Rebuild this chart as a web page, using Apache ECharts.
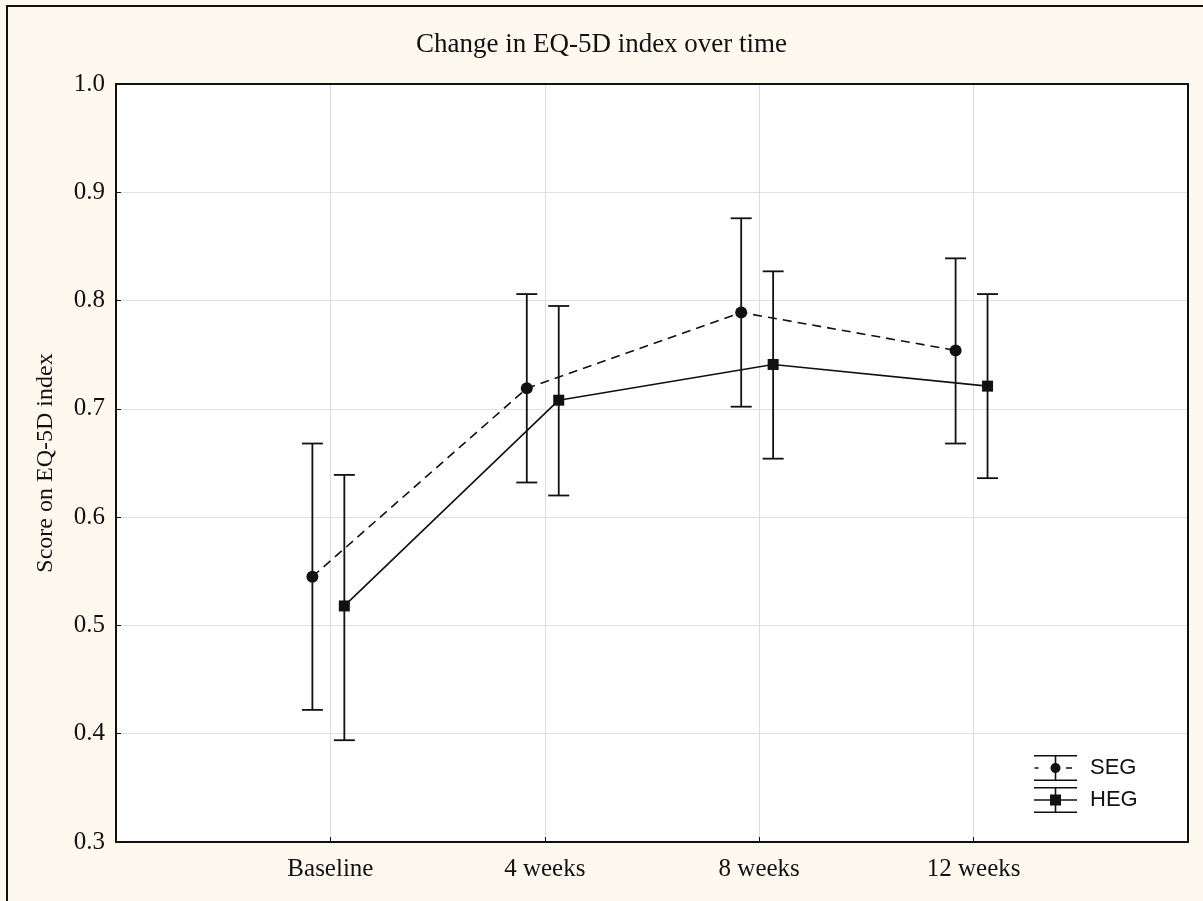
<!DOCTYPE html>
<html>
<head>
<meta charset="utf-8">
<style>
  html, body { margin: 0; padding: 0; background: #fef9ef; }
  #chart { width: 1203px; height: 901px; }
</style>
<script src="https://cdn.jsdelivr.net/npm/echarts@6/dist/echarts.min.js"></script>
</head>
<body>
<div id="chart"></div>
<script>
// Time points and the two groups' mean EQ-5D index with confidence limits
const categories = ['Baseline', '4 weeks', '8 weeks', '12 weeks'];
const segMean = [0.545, 0.719, 0.789, 0.754];
const segLow  = [0.422, 0.632, 0.702, 0.668];
const segHigh = [0.668, 0.806, 0.876, 0.839];
const hegMean = [0.518, 0.708, 0.741, 0.721];
const hegLow  = [0.394, 0.620, 0.654, 0.636];
const hegHigh = [0.639, 0.795, 0.827, 0.806];
const yTicks = [0.3, 0.4, 0.5, 0.6, 0.7, 0.8, 0.9, 1.0];

// horizontal dodge of each group around its time point (axis units)
const SEG_SHIFT = -0.084;
const HEG_SHIFT = 0.065;

const serif = '"Liberation Serif", "DejaVu Serif", serif';
const sans = '"Liberation Sans", Arial, sans-serif';

function points(vals, shift) {
  return vals.map((v, i) => [i + 1 + shift, v]);
}
function bars(lo, hi, shift) {
  return lo.map((l, i) => [i + 1 + shift, l, hi[i]]);
}

function renderErrorBar(params, api) {
  const x = api.value(0);
  const pLo = api.coord([x, api.value(1)]);
  const pHi = api.coord([x, api.value(2)]);
  const half = 10.5;
  const style = { stroke: '#111', lineWidth: 1.8 };
  return {
    type: 'group',
    children: [
      { type: 'line', shape: { x1: pLo[0], y1: pLo[1], x2: pHi[0], y2: pHi[1] }, style },
      { type: 'line', shape: { x1: pHi[0] - half, y1: pHi[1], x2: pHi[0] + half, y2: pHi[1] }, style },
      { type: 'line', shape: { x1: pLo[0] - half, y1: pLo[1], x2: pLo[0] + half, y2: pLo[1] }, style }
    ]
  };
}

// legend glyphs: capped error bar with the group's marker and line (all sub-paths clockwise)
const segIcon = 'path://M0 0H43V1.6H0Z M0 24.4H43V26H0Z M20.7 0H22.3V26H20.7Z ' +
  'M0.5 12.2H4.5V13.8H0.5Z M32 12.2H38V13.8H32Z ' +
  'M16.5 13C16.5 10.24 18.74 8 21.5 8C24.26 8 26.5 10.24 26.5 13' +
  'C26.5 15.76 24.26 18 21.5 18C18.74 18 16.5 15.76 16.5 13Z';
const hegIcon = 'path://M0 0H43V1.6H0Z M0 24.4H43V26H0Z M20.7 0H22.3V26H20.7Z ' +
  'M0 12.2H43V13.8H0Z M16 7.5H27V18.5H16Z';

// a bare axis line used to close the plot frame on the top and right
const frameOnly = {
  axisLine: { show: true, onZero: false, lineStyle: { color: '#111', width: 2 } },
  axisTick: { show: false },
  axisLabel: { show: false },
  splitLine: { show: false }
};

const chart = echarts.init(document.getElementById('chart'), null, { renderer: 'canvas' });

chart.setOption({
  backgroundColor: '#fef9ef',
  animation: false,
  title: {
    text: 'Change in EQ-5D index over time',
    left: 'center',
    top: 26,
    textStyle: { fontFamily: serif, fontSize: 27, fontWeight: 'normal', color: '#111' }
  },
  graphic: [{
    type: 'rect',
    shape: { x: 7, y: 6, width: 1220, height: 920 },
    style: { fill: 'none', stroke: '#111', lineWidth: 2 },
    silent: true,
    z: 100
  }],
  grid: {
    left: 116, top: 84, right: 15, bottom: 59,
    show: true,
    backgroundColor: '#ffffff',
    borderWidth: 0
  },
  xAxis: [{
    type: 'value',
    min: 0,
    max: 5,
    interval: 1,
    axisLine: { show: true, onZero: false, lineStyle: { color: '#111', width: 2 } },
    axisTick: { show: true, inside: true, length: 5, lineStyle: { color: '#111' } },
    splitLine: { show: true, lineStyle: { color: '#dcdcdc', width: 1 } },
    axisLabel: {
      margin: 15,
      fontFamily: serif,
      fontSize: 25,
      color: '#111',
      showMinLabel: false,
      showMaxLabel: false,
      formatter: v => categories[Math.round(v) - 1] || ''
    }
  }, Object.assign({ type: 'value', position: 'top', min: 0, max: 5 }, frameOnly)],
  yAxis: [{
    type: 'value',
    min: yTicks[0],
    max: yTicks[yTicks.length - 1],
    interval: 0.1,
    name: 'Score on EQ-5D index',
    nameLocation: 'middle',
    nameGap: 58,
    nameTextStyle: { fontFamily: serif, fontSize: 24, color: '#111' },
    axisLine: { show: true, onZero: false, lineStyle: { color: '#111', width: 2 } },
    axisTick: { show: true, inside: true, length: 5, lineStyle: { color: '#111' } },
    splitLine: { show: true, lineStyle: { color: '#e0e0e0', width: 1 } },
    axisLabel: {
      margin: 11,
      fontFamily: serif,
      fontSize: 25,
      color: '#111',
      formatter: v => v.toFixed(1)
    }
  }, Object.assign({ type: 'value', position: 'right', min: yTicks[0], max: yTicks[yTicks.length - 1] }, frameOnly)],
  legend: {
    orient: 'vertical',
    left: 1034,
    top: 755,
    padding: 0,
    itemWidth: 43,
    itemHeight: 26,
    itemGap: 6,
    selectedMode: false,
    textStyle: { fontFamily: sans, fontSize: 22, color: '#111', padding: [0, 0, 0, 8] },
    data: [
      { name: 'SEG', icon: segIcon, itemStyle: { color: '#111' } },
      { name: 'HEG', icon: hegIcon, itemStyle: { color: '#111' } }
    ]
  },
  series: [
    {
      type: 'custom',
      name: 'SEG limits',
      renderItem: renderErrorBar,
      data: bars(segLow, segHigh, SEG_SHIFT),
      encode: { x: 0, y: [1, 2] },
      silent: true,
      z: 2
    },
    {
      type: 'custom',
      name: 'HEG limits',
      renderItem: renderErrorBar,
      data: bars(hegLow, hegHigh, HEG_SHIFT),
      encode: { x: 0, y: [1, 2] },
      silent: true,
      z: 2
    },
    {
      type: 'line',
      name: 'SEG',
      data: points(segMean, SEG_SHIFT),
      symbol: 'circle',
      symbolSize: 12,
      itemStyle: { color: '#111' },
      lineStyle: { color: '#111', width: 1.6, type: [9, 6] },
      z: 3
    },
    {
      type: 'line',
      name: 'HEG',
      data: points(hegMean, HEG_SHIFT),
      symbol: 'rect',
      symbolSize: 11,
      itemStyle: { color: '#111' },
      lineStyle: { color: '#111', width: 1.6 },
      z: 3
    }
  ]
});
</script>
</body>
</html>
